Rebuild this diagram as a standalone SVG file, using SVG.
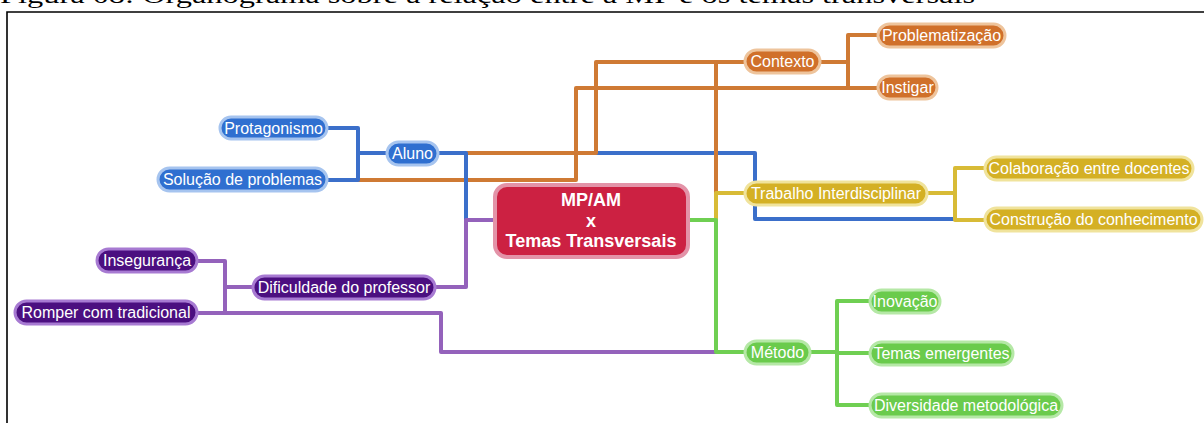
<svg xmlns="http://www.w3.org/2000/svg" width="1204" height="423" viewBox="0 0 1204 423">
<style>
.cap{font-family:"Liberation Serif","Times New Roman",serif;font-size:24px;fill:#000}
.frame{fill:none;stroke:#000;stroke-width:1.6}
.c{fill:none;stroke-width:4;stroke-linejoin:round;stroke-linecap:butt}
.cb{stroke:#3b6fca}.co{stroke:#cf7a34}.cy{stroke:#d8bb36}.cg{stroke:#6fcf52}.cp{stroke:#9462bb}
.n rect{stroke-width:3}
.n text{font-family:"Liberation Sans",Arial,sans-serif;font-size:16px;fill:#fff;text-anchor:middle}
.b rect{fill:#2f6fd0;stroke:#a6c4ef}
.o rect{fill:#d0702a;stroke:#eec49c}
.p rect{fill:#4b0f80;stroke:#a77ad2}
.y rect{fill:#d4b024;stroke:#f0e39c}
.g rect{fill:#6acb4c;stroke:#b5e8a6}
.m rect{fill:#cc2142;stroke:#e393a8;stroke-width:4}
.m text{font-family:"Liberation Sans",Arial,sans-serif;font-size:18px;font-weight:bold;fill:#fff;text-anchor:middle}
</style>
<text class="cap" x="0" y="3" textLength="975" lengthAdjust="spacingAndGlyphs">Figura 08: Organograma sobre a relação entre a MP e os temas transversais</text>
<path class="frame" d="M7,423 V12 H1204"/>
<g id="connectors">
  <path class="c cb" d="M466,153 H755 V219 H955"/>
  <path class="c co" d="M689,220 H716 V62 H745"/>
  <path class="c co" d="M466,153 H596 V62 H745"/>
  <path class="c co" d="M358,180 H576 V88 H878"/>
  <path class="c co" d="M820,62 H848 V35 H878 M848,62 V88"/>
  <path class="c cb" d="M438,153 H466 V220 H495"/>
  <path class="c cb" d="M327,128 H358 V180 H327 M358,153 H387"/>
  <path class="c cy" d="M689,220 H716 V193 H745"/>
  <path class="c cy" d="M927,193 H955 V168 H985 M955,193 V220 H985"/>
  <path class="c cp" d="M225,313 H441 V352 H716"/>
  <path class="c cg" d="M689,220 H716 V352 H745"/>
  <path class="c cg" d="M810,352 H837 V301 H870 M837,352 V405 H870 M837,353 H870"/>
  <path class="c cp" d="M495,220 H466 V287 H435"/>
  <path class="c cp" d="M253,287 H225 V261 H197 M225,287 V313 H197"/>
</g>
<g id="central" class="m">
  <rect x="495" y="185" width="193" height="72" rx="12"/>
  <text x="591" y="206">MP/AM</text>
  <text x="591" y="227">x</text>
  <text x="591" y="247">Temas Transversais</text>
</g>
<g id="aluno" class="n b"><rect x="387" y="142" width="51" height="23" rx="11.5"/><text x="412.5" y="159">Aluno</text></g>
<g id="protagonismo" class="n b"><rect x="220" y="117" width="107" height="22" rx="11"/><text x="273.5" y="133.5">Protagonismo</text></g>
<g id="solucao" class="n b"><rect x="158" y="168" width="169" height="23" rx="11.5"/><text x="242.5" y="185">Solução de problemas</text></g>
<g id="dificuldade" class="n p"><rect x="253" y="276" width="182" height="23" rx="11.5"/><text x="344" y="293">Dificuldade do professor</text></g>
<g id="inseguranca" class="n p"><rect x="97" y="249" width="100" height="23" rx="11.5"/><text x="147" y="266">Insegurança</text></g>
<g id="romper" class="n p"><rect x="15" y="301" width="182" height="23" rx="11.5"/><text x="106" y="318">Romper com tradicional</text></g>
<g id="contexto" class="n o"><rect x="745" y="50" width="75" height="23" rx="11.5"/><text x="782.5" y="67">Contexto</text></g>
<g id="problematizacao" class="n o"><rect x="878" y="24" width="127" height="23" rx="11.5"/><text x="941.5" y="41">Problematização</text></g>
<g id="instigar" class="n o"><rect x="878" y="76" width="59" height="23" rx="11.5"/><text x="907.5" y="93">Instigar</text></g>
<g id="trabalho" class="n y"><rect x="745" y="182" width="182" height="23" rx="11.5"/><text x="836" y="199">Trabalho Interdisciplinar</text></g>
<g id="colaboracao" class="n y"><rect x="985" y="157" width="208" height="23" rx="11.5"/><text x="1089" y="174">Colaboração entre docentes</text></g>
<g id="construcao" class="n y"><rect x="985" y="208" width="217" height="23" rx="11.5"/><text x="1093.5" y="225">Construção do conhecimento</text></g>
<g id="metodo" class="n g"><rect x="745" y="341" width="65" height="23" rx="11.5"/><text x="777.5" y="358">Método</text></g>
<g id="inovacao" class="n g"><rect x="870" y="290" width="70" height="23" rx="11.5"/><text x="905" y="307">Inovação</text></g>
<g id="temas" class="n g"><rect x="870" y="342" width="143" height="23" rx="11.5"/><text x="941.5" y="359">Temas emergentes</text></g>
<g id="diversidade" class="n g"><rect x="870" y="394" width="192" height="23" rx="11.5"/><text x="966" y="411">Diversidade metodológica</text></g>
</svg>
